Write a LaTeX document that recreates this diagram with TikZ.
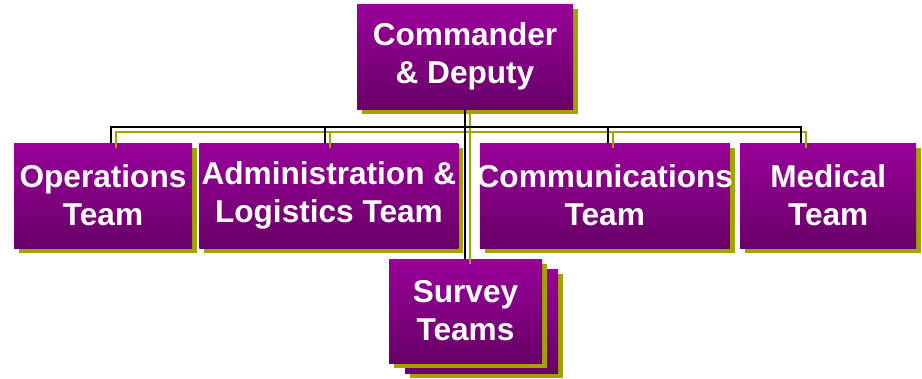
\documentclass[tikz,border=0pt]{standalone}
\usepackage{fontspec}
\setmainfont{Liberation Sans}
\usetikzlibrary{shadows, positioning}
\definecolor{teamtop}{RGB}{153,0,153}
\definecolor{teambottom}{RGB}{104,0,104}
\definecolor{teamshadow}{RGB}{163,163,0}
\tikzset{
  team/.style={top color=teamtop, bottom color=teambottom, text=white, inner sep=0pt,
    align=center, minimum height=105pt, font=\fontsize{31.6}{38}\selectfont\bfseries,
    drop shadow={fill=teamshadow, opacity=1, shadow xshift=5pt, shadow yshift=-5pt}},
  wire/.style={line width=2pt}
}
% connectors, drawn once as shadow and once in black
\newcommand{\orgwires}[1]{%
  \draw[wire, #1] (cmd.south) -- (cmd.south |- survey.north);
  \draw[wire, #1] ([xshift=8pt]ops.north) -- ++(0,16pt) -| ([xshift=-27pt]med.north);
  \draw[wire, #1] ([xshift=-3.5pt]admin.north) -- ++(0,16pt);
  \draw[wire, #1] ([xshift=3pt]comm.north) -- ++(0,16pt);
}

\begin{document}
\begin{tikzpicture}[x=1pt, y=1pt]
    \useasboundingbox (0,0) rectangle (922,-378);

    % Commander
    \node[team, minimum width=216pt] (cmd) at (465,-56.5) {Commander\\\& Deputy};

    % Team row
    \node[team, minimum width=178pt] (ops) at (103,-195.5) {Operations\\Team};
    \node[team, minimum width=259pt, right=7pt of ops] (admin) {Administration \&\\Logistics Team};
    \node[team, minimum width=250pt, right=21pt of admin] (comm) {\makebox[0pt]{Communications}\\Team};
    \node[team, minimum width=176pt, right=10pt of comm] (med) {Medical\\Team};

    % Survey stack
    \coordinate (surveypos) at (465.5,-311);
    \node[team, minimum width=153pt, minimum height=104pt] (surveyback) at ([shift={(16pt,-10pt)}]surveypos) {};
    \node[team, minimum width=153pt, minimum height=104pt] (survey) at (surveypos) {Survey\\Teams};

    % Connectors
    \begin{scope}[transform canvas={shift={(5pt,-5pt)}}]
        \orgwires{teamshadow}
    \end{scope}
    \orgwires{black}
\end{tikzpicture}
\end{document}
